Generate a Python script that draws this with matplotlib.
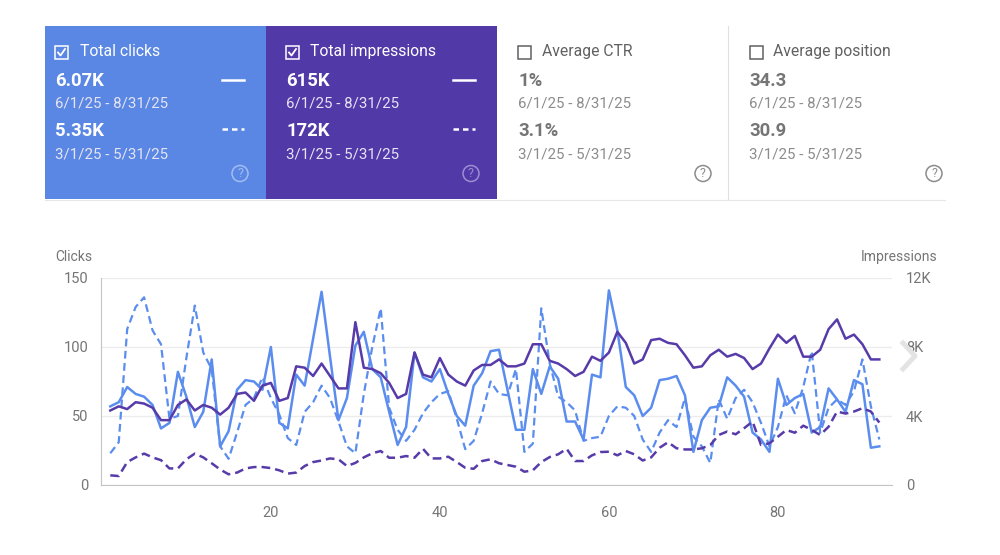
import matplotlib
matplotlib.use('Agg')
import matplotlib.pyplot as plt
from matplotlib.patches import Rectangle, Ellipse
from matplotlib.lines import Line2D
from matplotlib.ticker import FuncFormatter

plt.rcParams['font.family'] = ['Roboto', 'DejaVu Sans']

# summary cards
card_titles = ['Total clicks', 'Total impressions', 'Average CTR', 'Average position']
card_current = ['6.07K', '615K', '1%', '34.3']
card_previous = ['5.35K', '172K', '3.1%', '30.9']
current_range = '6/1/25 - 8/31/25'
previous_range = '3/1/25 - 5/31/25'

# daily series, day 1..92
days = list(range(1, 93))
clicks_current = [57, 60, 71, 66, 64, 58, 41, 45, 82, 64,
                  42, 53, 91, 28, 39, 69, 76, 75, 69, 100,
                  45, 41, 80, 72, 106, 140, 93, 47, 63, 101,
                  111, 84, 78, 53, 29, 42, 96, 78, 75, 84,
                  66, 50, 43, 72, 81, 97, 98, 69, 40, 40,
                  84, 66, 86, 77, 46, 46, 33, 80, 78, 141,
                  112, 71, 65, 50, 56, 76, 77, 79, 65, 24,
                  47, 56, 57, 78, 72, 64, 38, 33, 24, 77,
                  58, 63, 66, 38, 42, 70, 62, 53, 76, 73,
                  27, 28]
clicks_previous = [23, 31, 113, 129, 136, 112, 102, 48, 50, 92,
                   130, 96, 84, 28, 19, 38, 58, 63, 78, 63,
                   51, 34, 29, 53, 60, 72, 63, 46, 28, 23,
                   66, 100, 128, 56, 40, 32, 40, 52, 60, 66,
                   68, 48, 26, 32, 52, 75, 66, 65, 84, 24,
                   30, 128, 88, 64, 60, 54, 32, 34, 35, 50,
                   57, 56, 50, 33, 24, 38, 47, 42, 63, 35,
                   28, 16, 62, 48, 63, 69, 60, 45, 28, 42,
                   65, 52, 71, 97, 38, 56, 62, 58, 68, 91,
                   57, 33]
impr_current = [4320, 4560, 4400, 4800, 4720, 4480, 3760, 3760, 4640, 4960,
                4320, 4640, 4480, 4080, 4480, 5280, 5360, 4880, 5760, 5920,
                4880, 5040, 6880, 6800, 6320, 7040, 6320, 5600, 5600, 9440,
                6800, 6720, 6480, 5920, 5040, 5280, 7680, 6400, 6240, 7360,
                6400, 6000, 5760, 6640, 6960, 6960, 7280, 6880, 6880, 7040,
                8160, 8160, 7200, 7040, 6720, 6320, 6560, 7440, 7200, 7680,
                8880, 8240, 7040, 7280, 8400, 8480, 8240, 8160, 7520, 6800,
                6880, 7520, 7840, 7440, 7600, 7360, 6720, 7040, 7920, 8720,
                8240, 8640, 7440, 7440, 7840, 9040, 9600, 8480, 8720, 8160,
                7280, 7280]
impr_previous = [560, 520, 1330, 1600, 1820, 1600, 1440, 960, 960, 1490,
                 1820, 1600, 1260, 900, 620, 720, 960, 1040, 1040, 980,
                 850, 660, 720, 1100, 1330, 1420, 1540, 1490, 1100, 1280,
                 1600, 1840, 1970, 1580, 1580, 1680, 1580, 2100, 1540, 1540,
                 1640, 1330, 1000, 940, 1390, 1490, 1260, 1160, 1060, 770,
                 850, 1330, 1620, 1780, 2100, 1390, 1390, 1720, 1910, 1930,
                 1720, 1970, 1780, 1420, 1600, 2160, 2480, 2130, 2060, 2060,
                 2130, 2320, 2900, 3100, 2940, 3290, 3680, 2320, 2420, 2800,
                 3190, 3030, 3440, 3190, 2900, 3380, 4260, 4140, 4260, 4450,
                 4260, 3620]

CLICK_COL = '#5b8def'
IMPR_COL = '#573ba9'
CLICK_CARD = '#5a87e3'
IMPR_CARD = '#5239a8'

W, H = 1000, 555
fig = plt.figure(figsize=(10, 5.55), dpi=100)


def fx(x):
    return x / W


def fy(y):
    return 1 - y / H


def line_px(xs, ys, color, lw=1.5, ls='-'):
    fig.add_artist(Line2D([fx(x) for x in xs], [fy(y) for y in ys],
                          color=color, lw=lw, ls=ls, transform=fig.transFigure))


# cards
card_left = [45, 266, 497, 728]
card_right = [266, 497, 728, 945]
card_fill = [CLICK_CARD, IMPR_CARD, None, None]
text_x = [55, 286, 518, 749]
box_x = [55, 286, 518, 750]
title_x = [80, 310, 542, 773]
help_x = [240, 471, 703, 934]

for i in range(4):
    l, r = card_left[i], card_right[i]
    filled = card_fill[i] is not None
    if filled:
        fig.add_artist(Rectangle((fx(l), fy(199)), fx(r) - fx(l), (199 - 26) / H,
                                 facecolor=card_fill[i], edgecolor='none',
                                 transform=fig.transFigure))
        tcol, vcol, dcol = 'white', 'white', '#e6e4f4'
        icol = '#9d8ed2' if i == 1 else '#a3bdf2'
    else:
        tcol, vcol, dcol, icol = '#616161', '#757575', '#8c8c8c', '#8c8c8c'
    # checkbox
    bx = box_x[i]
    fig.add_artist(Rectangle((fx(bx), fy(59)), 13 / W, 13 / H, facecolor='none',
                             edgecolor=tcol, lw=1.1, transform=fig.transFigure))
    if filled:
        line_px([bx + 3, bx + 5.5, bx + 10], [52.5, 55.5, 49], 'white', lw=1.3)
    fig.text(fx(title_x[i]), fy(51.5), card_titles[i], color=tcol, fontsize=11.3,
             va='center', ha='left')
    fig.text(fx(text_x[i]), fy(81), card_current[i], color=vcol, fontsize=13.3,
             fontweight='bold', va='center', ha='left')
    fig.text(fx(text_x[i]), fy(104), current_range, color=dcol, fontsize=10.8,
             va='center', ha='left')
    fig.text(fx(text_x[i]), fy(130.5), card_previous[i], color=vcol, fontsize=13.3,
             fontweight='bold', va='center', ha='left')
    fig.text(fx(text_x[i]), fy(154), previous_range, color=dcol, fontsize=10.8,
             va='center', ha='left')
    if filled:
        line_px([r - 44, r - 22], [80, 80], 'white', lw=1.8)
        line_px([r - 44, r - 22], [129, 129], 'white', lw=1.8, ls=(0, (2.2, 1.6)))
    # help icon
    hx = help_x[i]
    fig.add_artist(Ellipse((fx(hx), fy(173.5)), 16 / W, 16 / H, facecolor='none',
                           edgecolor=icol, lw=1.1, transform=fig.transFigure))
    fig.text(fx(hx), fy(173.2), '?', color=icol, fontsize=9, ha='center', va='center')

line_px([728, 728], [26, 199], '#e0e0e0', lw=0.8)
line_px([45, 945], [200, 200], '#e6e6e6', lw=0.8)

# chart
ax = fig.add_axes([fx(101), fy(485), fx(892) - fx(101), (485 - 278) / H])
ax.set_xlim(-0.1, 93.5)
ax.set_ylim(0, 150)
ax.set_yticks([0, 50, 100, 150])
ax.set_xticks([20, 40, 60, 80])
ax.grid(axis='y', color='#ececec', lw=1)
ax.set_axisbelow(True)
for s in ['top', 'right']:
    ax.spines[s].set_visible(False)
ax.spines['bottom'].set_color('#c4c4c4')
ax.spines['left'].set_color('#c4c4c4')
ax.tick_params(axis='y', length=0, pad=9, labelsize=10.5, labelcolor='#757575')
ax.tick_params(axis='x', length=0, pad=15, labelsize=10.5, labelcolor='#757575')

ax2 = ax.twinx()
ax2.set_ylim(0, 12000)
ax2.set_yticks([0, 4000, 8000, 12000])
ax2.yaxis.set_major_formatter(FuncFormatter(lambda v, p: '0' if v == 0 else f'{int(v / 1000)}K'))
for s in ax2.spines.values():
    s.set_visible(False)
ax2.tick_params(axis='y', length=0, pad=10, labelsize=10.5, labelcolor='#757575')

ax.plot(days, clicks_previous, color=CLICK_COL, lw=1.6, ls=(0, (3.5, 2)))
ax.plot(days, clicks_current, color=CLICK_COL, lw=1.8)
ax2.plot(days, impr_previous, color=IMPR_COL, lw=1.8, ls=(0, (3.5, 2)))
ax2.plot(days, impr_current, color=IMPR_COL, lw=1.8)

fig.text(fx(55), fy(257), 'Clicks', color='#757575', fontsize=10, ha='left', va='center')
fig.text(fx(937), fy(257), 'Impressions', color='#757575', fontsize=10, ha='right', va='center')

# faded next-arrow over the right axis
line_px([903, 915, 903], [343, 356, 369], '#e3e3e3', lw=3.5)

fig.savefig('out.png', dpi=100, facecolor='white')
